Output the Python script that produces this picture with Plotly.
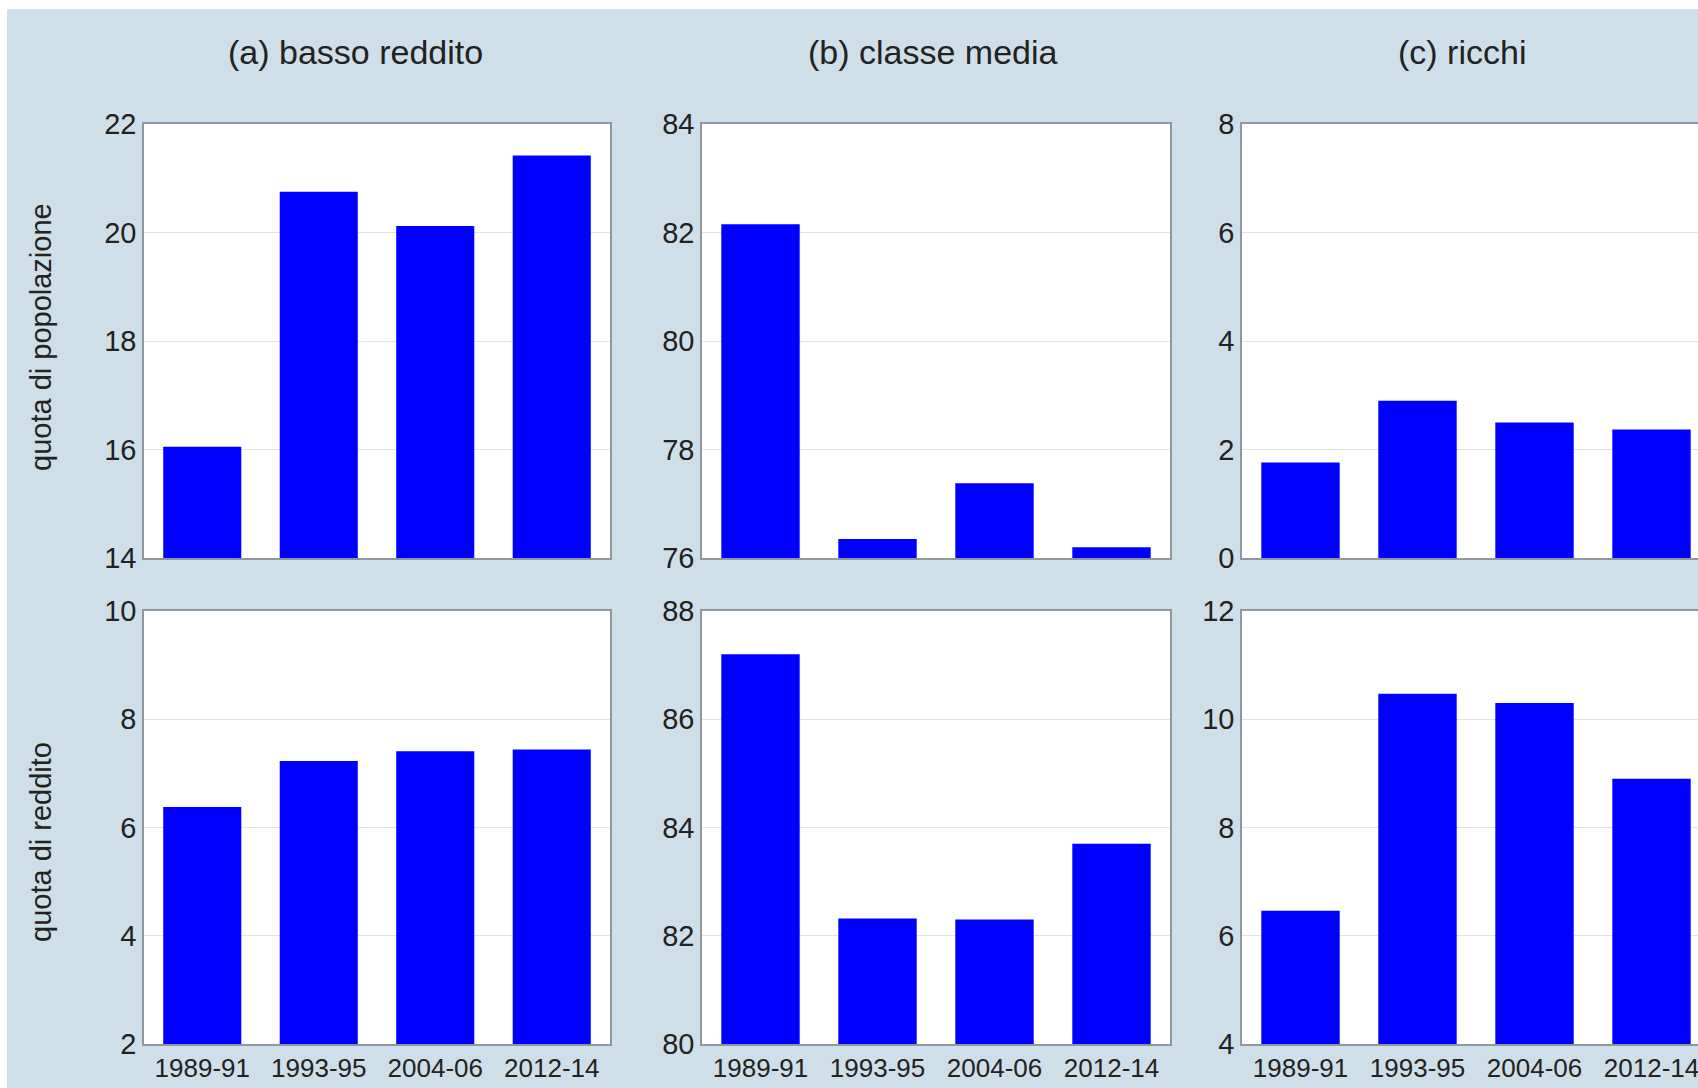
import plotly.graph_objects as go

periods = ["1989-91", "1993-95", "2004-06", "2012-14"]
panel_titles = ["(a) basso reddito", "(b) classe media", "(c) ricchi"]
row_titles = ["quota di popolazione", "quota di reddito"]

pop_basso = [16.05, 20.75, 20.12, 21.42]
pop_media = [82.15, 76.35, 77.38, 76.2]
pop_ricchi = [1.76, 2.9, 2.5, 2.37]
red_basso = [6.38, 7.23, 7.41, 7.44]
red_media = [87.2, 82.32, 82.3, 83.7]
red_ricchi = [6.46, 10.47, 10.3, 8.9]

y_ranges = [[(14, 22), (76, 84), (0, 8)], [(2, 10), (80, 88), (4, 12)]]
data = [[pop_basso, pop_media, pop_ricchi], [red_basso, red_media, red_ricchi]]

W, H = 1698, 1088
BG = "#cfdfe9"
BAR = "#0000ff"
FONT = "Liberation Sans, Arial, sans-serif"

col_px = [(144, 610), (702, 1170), (1242, 1710)]
row_px = [(124, 558), (611, 1044)]

fig = go.Figure()
# thin white strips at the top and left edge of the picture
fig.add_shape(type="rect", xref="paper", yref="paper", x0=0, x1=1, y0=1 - 9 / H, y1=1,
              fillcolor="white", line_width=0, layer="below")
fig.add_shape(type="rect", xref="paper", yref="paper", x0=0, x1=7 / W, y0=0, y1=1,
              fillcolor="white", line_width=0, layer="below")

for r in range(2):
    for c in range(3):
        idx = r * 3 + c + 1
        xa = "x" if idx == 1 else f"x{idx}"
        ya = "y" if idx == 1 else f"y{idx}"
        fig.add_trace(go.Bar(x=periods, y=data[r][c], marker_color=BAR, marker_line_width=0,
                             xaxis=xa, yaxis=ya, showlegend=False))
        x0, x1 = col_px[c]
        y0, y1 = row_px[r]
        xdom = [x0 / W, min(1.0, x1 / W)]
        ydom = [(H - y1) / H, (H - y0) / H]
        n = len(periods)
        full = x1 - x0
        vis = min(x1, W) - x0
        xr = [-0.5, -0.5 + n * vis / full]
        lo, hi = y_ranges[r][c]
        xkey = "xaxis" if idx == 1 else f"xaxis{idx}"
        ykey = "yaxis" if idx == 1 else f"yaxis{idx}"
        fig.update_layout(**{
            xkey: dict(domain=xdom, anchor=ya, range=xr, type="category", automargin=False,
                       showticklabels=(r == 1), tickfont=dict(size=26, color="#222"),
                       showline=True, linecolor="#8e989e", linewidth=1.5, mirror=True,
                       ticks="", showgrid=False, fixedrange=True),
            ykey: dict(domain=ydom, anchor=xa, range=[lo, hi], dtick=2, automargin=False,
                       tickfont=dict(size=29, color="#222"),
                       showline=True, linecolor="#8e989e", linewidth=1.5,
                       mirror=(c != 2), ticks="", gridcolor="#e2e2e2", gridwidth=1,
                       zeroline=False, fixedrange=True),
        })

title_x = [355, 933, 1462]
for t, x in zip(panel_titles, title_x):
    fig.add_annotation(text=t, x=x / W, y=1 - 52 / H, xref="paper", yref="paper",
                       showarrow=False, font=dict(size=34, color="#222", family=FONT),
                       xanchor="center", yanchor="middle")

row_title_y = [337, 842]
for t, y in zip(row_titles, row_title_y):
    fig.add_annotation(text=t, x=41 / W, y=1 - y / H, xref="paper", yref="paper",
                       showarrow=False, textangle=-90,
                       font=dict(size=29, color="#222", family=FONT),
                       xanchor="center", yanchor="middle")

fig.update_layout(width=W, height=H, margin=dict(l=0, r=0, t=0, b=0, autoexpand=False),
                  paper_bgcolor=BG, plot_bgcolor="white", bargap=0.33,
                  font=dict(family=FONT, color="#222"))

fig.write_html("out.html", config={"displayModeBar": False},
               post_script="document.body.style.margin='0';document.body.style.overflow='hidden';")
